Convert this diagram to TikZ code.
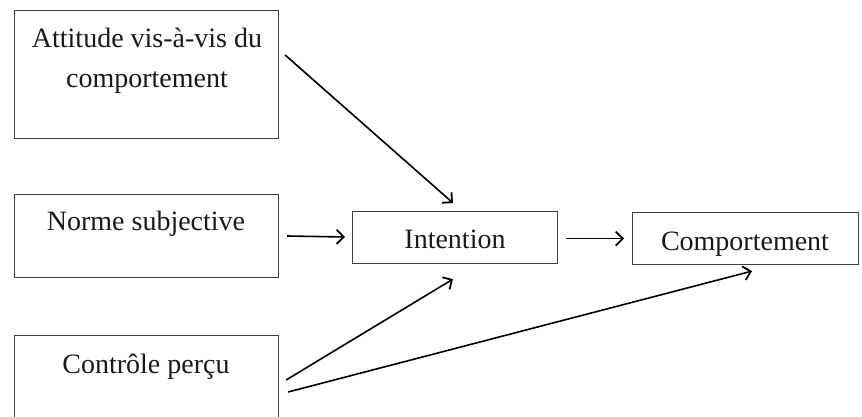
\documentclass[tikz,border=0pt]{standalone}
\usepackage{fontspec}
\setmainfont{Liberation Serif}
\usetikzlibrary{arrows.meta,calc}
\begin{document}
\begin{tikzpicture}[x=1pt,y=-1pt,
  box/.style={draw=black!75,line width=1.1pt,rectangle,inner sep=0pt,anchor=north west},
  lbl/.style={anchor=base,inner sep=0pt,text=black!90,font=\fontsize{28}{40}\selectfont},
  conn/.style={line width=1.6pt,-{Straight Barb[length=7pt,width=14pt,line width=1.8pt]}}]
\useasboundingbox (0,0) rectangle (862,417);
\clip (0,0) rectangle (862,417);
% boxes
\node[box,minimum width=264pt,minimum height=128pt] (b1) at (14,10) {};
\node[box,minimum width=264pt,minimum height=83pt] (b2) at (14,194) {};
\node[box,minimum width=264pt,minimum height=90pt] (b3) at (14,335) {};
\node[box,minimum width=205pt,minimum height=52pt] (bi) at (352,211) {};
\node[box,minimum width=226pt,minimum height=52pt] (bc) at (632,212) {};
% labels
\node[lbl] (t1a) at (147,48) {Attitude vis-à-vis du};
\node[lbl] (t1b) at (147,88) {comportement};
\node[lbl] (t2) at (146,230) {Norme subjective};
\node[lbl] (t3) at (146,373) {Contrôle perçu};
\node[lbl] (ti) at (455,248) {Intention};
\node[lbl] (tc) at (745,250) {Comportement};
% connectors
\draw[conn] ($(b1.north east)+(6,45)$) -- ($(bi.north west)+(101,-8)$);
\draw[conn] ($(b2.north east)+(8,42)$) -- ($(bi.north west)+(-7,26)$);
\draw[conn] ($(b3.north east)+(7,45)$) -- ($(bi.south west)+(101,15)$);
\draw[conn] ($(b3.north east)+(9,57)$) -- ($(bc.south west)+(120,6)$);
\draw[conn] ($(bi.east)+(8,1)$) -- ($(bc.west)+(-8,0)$);
\end{tikzpicture}
\end{document}
